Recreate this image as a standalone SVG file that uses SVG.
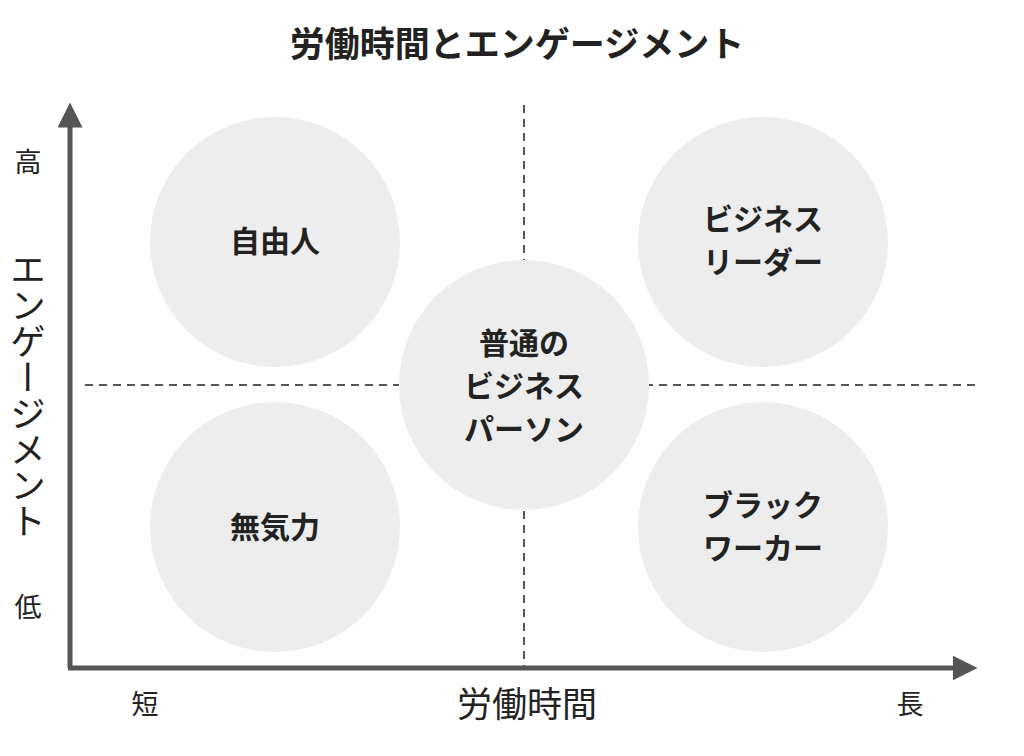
<svg xmlns="http://www.w3.org/2000/svg" width="1024" height="756" viewBox="0 0 1024 756">
<style>
text{font-family:"Noto Sans CJK JP",sans-serif;fill:#222}
.b{font-weight:bold;font-size:30px;text-anchor:middle}
.l{font-size:27px;text-anchor:middle}
.c{fill:#ededed}
</style>
<defs><marker id="ar" viewBox="0 0 10 10" refX="5" refY="5" markerWidth="5" markerHeight="5" orient="auto"><path d="M0,0L10,5L0,10z" fill="#555"/></marker></defs>
<rect width="1024" height="756" fill="#fff"/>
<text x="517" y="57" class="b" style="font-size:35px">労働時間とエンゲージメント</text>
<g id="connectors" stroke="#555" fill="none">
<line x1="524" y1="105" x2="524" y2="668" stroke-width="2" stroke-dasharray="8,6"/>
<line x1="85" y1="385" x2="975" y2="385" stroke-width="2" stroke-dasharray="8,6"/>
<line x1="70" y1="668" x2="70" y2="115" stroke-width="5" marker-end="url(#ar)"/>
<line x1="68" y1="668" x2="965" y2="668" stroke-width="5" marker-end="url(#ar)"/>
</g>
<g id="n1"><circle class="c" cx="275" cy="242" r="125"/><text x="275" y="252" class="b">自由人</text></g>
<g id="n2"><circle class="c" cx="763" cy="242" r="125"/><text x="763" y="230" class="b">ビジネス</text><text x="763" y="273" class="b">リーダー</text></g>
<g id="n3"><circle class="c" cx="524" cy="385" r="125"/><text x="524" y="354" class="b">普通の</text><text x="524" y="397" class="b">ビジネス</text><text x="524" y="440" class="b">パーソン</text></g>
<g id="n4"><circle class="c" cx="275" cy="527" r="125"/><text x="275" y="538" class="b">無気力</text></g>
<g id="n5"><circle class="c" cx="763" cy="527" r="125"/><text x="763" y="516" class="b">ブラック</text><text x="763" y="559" class="b">ワーカー</text></g>
<text x="28" y="172" class="l">高</text>
<text x="28" y="617" class="l">低</text>
<text x="28" y="395" style="font-size:36px;writing-mode:vertical-rl;text-anchor:middle">エンゲージメント</text>
<text x="145" y="714" class="l">短</text>
<text x="527" y="717" class="l" style="font-size:35px">労働時間</text>
<text x="910" y="714" class="l">長</text>
</svg>
